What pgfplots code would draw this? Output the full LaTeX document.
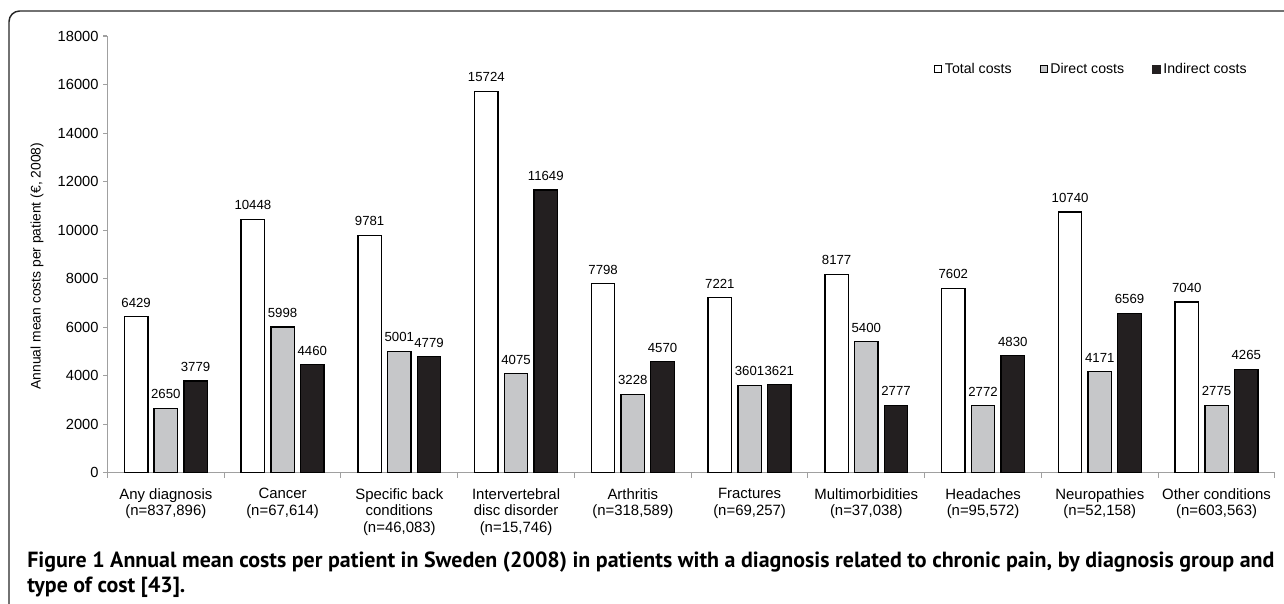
\documentclass[border=0pt]{standalone}
\usepackage{fontspec}
\setmainfont{Liberation Sans}
\newfontfamily\capfont{PT Sans}
\usepackage{pgfplots}
\pgfplotsset{compat=1.18}
\definecolor{axgray}{HTML}{A0A0A0}
\definecolor{bargray}{HTML}{C6C7C9}
\definecolor{barblack}{HTML}{231F20}
\begin{document}
\begin{tikzpicture}
\useasboundingbox (0pt,0pt) rectangle (963pt,-452.25pt);
\begin{scope}
\clip (0pt,0pt) rectangle (963pt,-452.25pt);
\draw[line width=1.1pt, black!85, rounded corners=8pt] (6.75pt,-8.25pt) rectangle (990pt,-480pt);
\end{scope}
\begin{axis}[
  at={(80.6pt,-354.5pt)}, anchor=south west,
  scale only axis, width=875.6pt, height=327.5pt,
  xmin=-0.5, xmax=9.5, ymin=0, ymax=18000,
  ybar, bar width=17.6pt,
  ytick={0,2000,...,18000},
  scaled y ticks=false,
  xtick={0,...,9},
  minor xtick={-0.5,0.5,...,9.5},
  xticklabels={{Any diagnosis\\(n=837,896)},{Cancer\\(n=67,614)},{Specific back\\conditions\\(n=46,083)},{Intervertebral\\disc disorder\\(n=15,746)},{Arthritis\\(n=318,589)},{Fractures\\(n=69,257)},{Multimorbidities\\(n=37,038)},{Headaches\\(n=95,572)},{Neuropathies\\(n=52,158)},{Other conditions\\(n=603,563)}},
  xticklabel style={align=center, font=\fontsize{11.2}{12.5}\selectfont, yshift=-5pt},
  yticklabel style={font=\fontsize{11}{13}\selectfont},
  /pgf/number format/assume math mode=true,
  /pgf/number format/1000 sep={},
  axis x line*=bottom, axis y line*=left,
  axis line style={axgray, line width=1pt},
  tick align=outside,
  tick style={axgray, line width=0.8pt},
  major tick length=3.2pt,
  minor tick length=3.75pt,
  major x tick style={draw=none},
  ylabel={Annual mean costs per patient (€, 2008)},
  every axis y label/.style={at={(axis description cs:-0.0604,0.473)}, rotate=90, anchor=center, font=\fontsize{10.4}{12}\selectfont},
  legend style={at={(0.708,0.924)}, anchor=west, draw=none, fill=none, font=\fontsize{10.6}{13}\selectfont, /tikz/every even column/.append style={column sep=19pt}, inner sep=0pt},
  legend columns=3,
  nodes near coords,
  point meta=y,
  every node near coord/.append style={font=\fontsize{9.9}{11}\selectfont, black, inner sep=0pt, yshift=6.5pt, /pgf/number format/fixed, /pgf/number format/precision=0, /pgf/number format/1000 sep={}},
]
\addplot[bar shift=-22.3pt, draw=black, line width=1pt, fill=white,
  legend image code/.code={\draw[black, line width=0.8pt, fill=white] (0pt,-2.6pt) rectangle (5.2pt,2.6pt);}]
  coordinates {(0,6429) (1,10448) (2,9781) (3,15724) (4,7798) (5,7221) (6,8177) (7,7602) (8,10740) (9,7040)};
\addlegendentry{Total costs}
\addplot[bar shift=0pt, draw=black, line width=1pt, fill=bargray,
  legend image code/.code={\draw[black, line width=0.8pt, fill=bargray] (0pt,-2.6pt) rectangle (5.2pt,2.6pt);}]
  coordinates {(0,2650) (1,5998) (2,5001) (3,4075) (4,3228) (5,3601) (6,5400) (7,2772) (8,4171) (9,2775)};
\addlegendentry{Direct costs}
\addplot[bar shift=22.3pt, draw=black, line width=1pt, fill=barblack,
  legend image code/.code={\fill[barblack] (0pt,-2.8pt) rectangle (5.4pt,2.8pt);}]
  coordinates {(0,3779) (1,4460) (2,4779) (3,11649) (4,4570) (5,3621) (6,2777) (7,4830) (8,6569) (9,4265)};
\addlegendentry{Indirect costs}
\end{axis}
\node[anchor=base west, inner sep=0pt, font=\capfont\bfseries\fontsize{16.45}{18}\selectfont] at (20.25pt,-425.25pt) {Figure 1 Annual mean costs per patient in Sweden (2008) in patients with a diagnosis related to chronic pain, by diagnosis group and};
\node[anchor=base west, inner sep=0pt, font=\capfont\bfseries\fontsize{16.45}{18}\selectfont] at (20.25pt,-444pt) {type of cost [43].};
\end{tikzpicture}
\end{document}
